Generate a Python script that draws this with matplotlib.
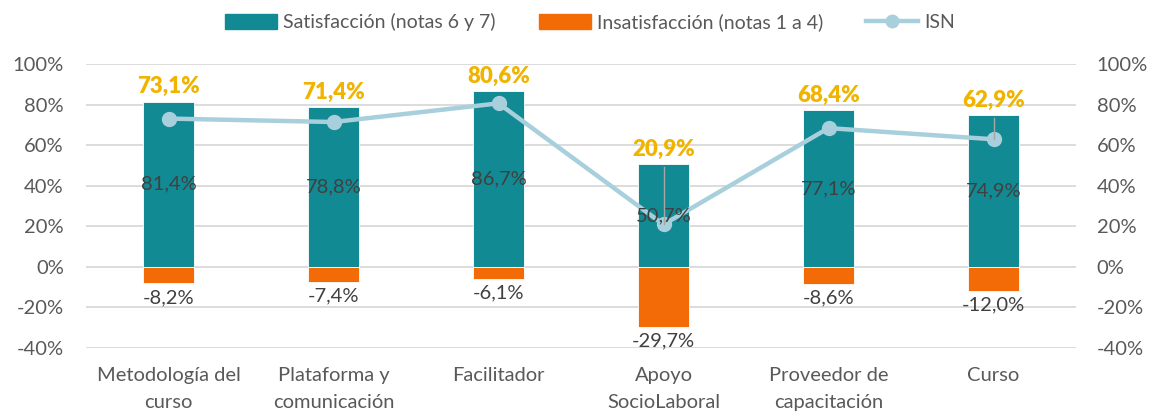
import numpy as np
import matplotlib.pyplot as plt
from matplotlib.lines import Line2D
from matplotlib.patches import Patch

plt.rcParams['font.family'] = ['Lato', 'DejaVu Sans']

# data
categorias = ["Metodología del\ncurso", "Plataforma y\ncomunicación", "Facilitador",
              "Apoyo\nSocioLaboral", "Proveedor de\ncapacitación", "Curso"]
satisfaccion = [81.4, 78.8, 86.7, 50.7, 77.1, 74.9]
insatisfaccion = [-8.2, -7.4, -6.1, -29.7, -8.6, -12.0]
isn = [73.1, 71.4, 80.6, 20.9, 68.4, 62.9]

teal = '#118A94'
orange = '#F26B07'
isn_col = '#A8CFDC'
gold = '#F0B400'
txt = '#595959'
lbl = '#404040'

def pct(v):
    return f"{v:.1f}%".replace('.', ',')

fig = plt.figure(figsize=(11.55, 4.12), dpi=100)
ax = fig.add_axes([86 / 1155, 64 / 412, 990 / 1155, 284 / 412])
x = np.arange(len(categorias))

ax.bar(x, satisfaccion, width=0.315, color=teal, edgecolor='white', linewidth=0.6, zorder=2)
ax.bar(x, insatisfaccion, width=0.315, color=orange, edgecolor='white', linewidth=0.6, zorder=2)
ax.plot(x, isn, color=isn_col, lw=3.2, marker='o', ms=10, zorder=4)

for i in range(len(x)):
    # satisfaccion label in middle of bar
    ax.text(x[i], satisfaccion[i] / 2, pct(satisfaccion[i]), ha='center', va='center',
            fontsize=14.5, color=lbl, zorder=5)
    # insatisfaccion label below bar
    ax.annotate(pct(insatisfaccion[i]), (x[i], insatisfaccion[i]), xytext=(0, -4),
                textcoords='offset points', ha='center', va='top', fontsize=14.5, color=lbl, zorder=5)
    # ISN label above bar
    ax.annotate(pct(isn[i]), (x[i], satisfaccion[i]), xytext=(0, 6),
                textcoords='offset points', ha='center', va='baseline', fontsize=16,
                fontweight='heavy', color=gold, zorder=5)
    if satisfaccion[i] - isn[i] > 10:
        ax.plot([x[i], x[i]], [satisfaccion[i] - 1.5, isn[i]], color='#A6A6A6', lw=1, zorder=5)

ax.set_xlim(-0.5, len(x) - 0.5)
ax.set_ylim(-40, 100)
ticks = np.arange(-40, 101, 20)
ax.set_yticks(ticks)
ax.set_yticklabels([f"{t}%" for t in ticks])
ax.set_xticks(x)
ax.set_xticklabels(categorias, linespacing=1.65)
ax.grid(axis='y', color='#D9D9D9', lw=1.3, zorder=0)
ax.set_axisbelow(True)
for s in ax.spines.values():
    s.set_visible(False)
ax.tick_params(length=0, labelsize=14.5, colors=txt)
ax.tick_params(axis='y', pad=16)
ax.tick_params(axis='x', pad=14)

ax2 = ax.twinx()
ax2.set_ylim(-40, 100)
ax2.set_yticks(ticks)
ax2.set_yticklabels([f"{t}%" for t in ticks])
for s in ax2.spines.values():
    s.set_visible(False)
ax2.tick_params(length=0, labelsize=14.5, colors=txt, pad=15)

handles = [Patch(color=teal, label='Satisfacción (notas 6 y 7)'),
           Patch(color=orange, label='Insatisfacción (notas 1 a 4)'),
           Line2D([], [], color=isn_col, lw=3.2, marker='o', ms=9, label='ISN')]
fig.legend(handles=handles, loc='center', bbox_to_anchor=(590 / 1155, 1 - 22 / 412), ncol=3,
           frameon=False, fontsize=14, handlelength=2.7, handleheight=0.8,
           columnspacing=2.2, handletextpad=0.3, labelcolor=txt)

fig.savefig('out.png', dpi=100)
